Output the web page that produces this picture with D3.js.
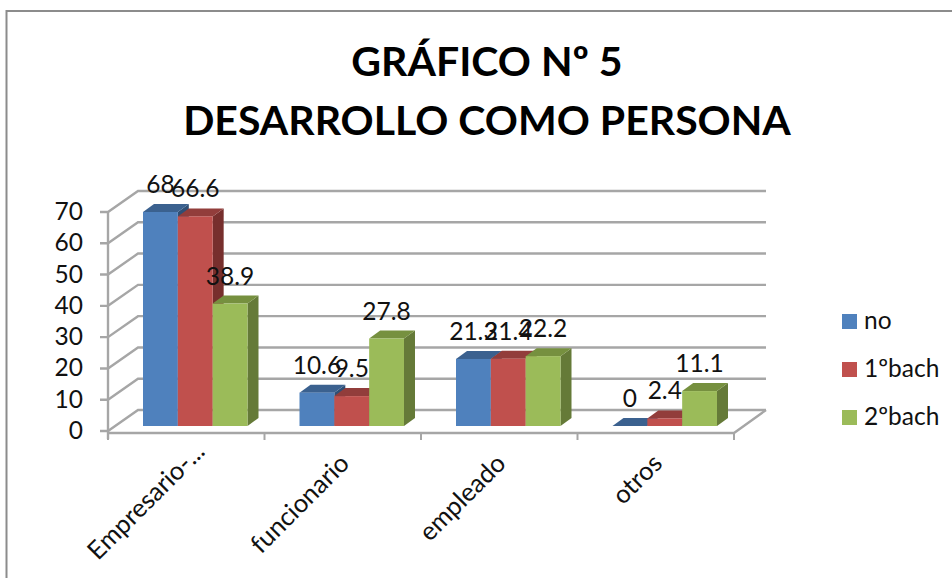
<!DOCTYPE html>
<html><head><meta charset="utf-8">
<script src="https://cdn.jsdelivr.net/npm/d3@7"></script>
<style>html,body{margin:0;background:#fff}svg{display:block}text{font-family:Lato,Carlito,sans-serif;fill:#111}</style>
</head><body><svg id="c" width="952" height="578"></svg>
<script>
const categories=["Empresario-...","funcionario","empleado","otros"];
const seriesNames=["no","1ºbach","2ºbach"];
const no=[68,10.6,21.3,0];
const bach1=[66.6,9.5,21.4,2.4];
const bach2=[38.9,27.8,22.2,11.1];
const yTicks=[0,10,20,30,40,50,60,70];
const titleLines=["GRÁFICO Nº 5","DESARROLLO COMO PERSONA"];
const seriesValues=[no,bach1,bach2];
const colors=[["#4f81bd","#3b618f","#2f4f75"],["#c0504d","#923d3b","#772f2d"],["#9bbb59","#76903f","#657a38"]];

const svg=d3.select("#c");
const frame="#8c8c8c",grid="#a6a6a6";
svg.append("path").attr("d","M6.5,578V11H952").attr("fill","none").attr("stroke",frame).attr("stroke-width",2);
svg.selectAll("text.t").data(titleLines).join("text").attr("class","t").attr("x",487).attr("y",(d,i)=>76+i*59)
 .attr("text-anchor","middle").attr("font-size",41).attr("font-weight",700).style("fill","#000").text(d=>d);

const depthY=21;
const x=d3.scaleBand().domain(categories).range([108,734]);
const yFront=d3.scaleLinear().domain([0,70]).range([431,212]);
const yBar=d3.scaleLinear().domain([0,70]).range([426,205.7]);
const inner=d3.scaleBand().domain(d3.range(3)).range([35,139.5]);
const dx=11,dy=8;
const g=svg.append("g");
yTicks.forEach(t=>{
  const y=yFront(t);
  g.append("path").attr("d",`M100,${y}H108L138,${y-depthY}H766`).attr("fill","none").attr("stroke",grid).attr("stroke-width",2.4);
});
g.append("path").attr("d",`M108,${yFront(70)}V439`).attr("stroke",grid).attr("stroke-width",2.4);
g.append("path").attr("d","M108,433H734L766,410").attr("fill","none").attr("stroke",grid).attr("stroke-width",2.4);
[...categories.map(c=>x(c)),x.range()[1]].forEach(v=>g.append("path").attr("d",`M${v},433V440`).attr("stroke",grid).attr("stroke-width",2));
categories.forEach((c,ci)=>{
  seriesValues.forEach((vals,si)=>{
    const v=vals[ci],x0=x(c)+inner(si),w=inner.bandwidth(),y0=yBar(v),yb=yBar(0),col=colors[si];
    const b=g.append("g");
    b.append("path").attr("d",`M${x0+w},${y0}l${dx},${-dy}V${yb-dy}l${-dx},${dy}Z`).attr("fill",col[2]);
    b.append("path").attr("d",`M${x0},${y0}l${dx},${-dy}h${w}l${-dx},${dy}Z`).attr("fill",col[1]);
    b.append("rect").attr("x",x0).attr("y",y0).attr("width",w).attr("height",yb-y0).attr("fill",col[0]);
  });
});
categories.forEach((c,ci)=>{
  seriesValues.forEach((vals,si)=>{
    g.append("text").attr("x",x(c)+inner(si)+inner.bandwidth()/2).attr("y",yBar(vals[ci])-19)
     .attr("text-anchor","middle").attr("font-size",24.5).text(vals[ci]);
  });
});
svg.selectAll("text.y").data(yTicks).join("text").attr("class","y").attr("x",83).attr("y",d=>yFront(d)+8)
 .attr("text-anchor","end").attr("font-size",24.5).text(d=>d);
svg.selectAll("text.x").data(categories).join("text").attr("class","x")
 .attr("transform",d=>`translate(${x(d)+x.bandwidth()/2+8},${465}) rotate(-45)`)
 .attr("dx",(d,i)=>i===0?17:0)
 .attr("text-anchor","end").attr("font-size",25.5).text(d=>d);
const leg=d3.scaleLinear().domain([0,1]).range([314,362]);
seriesNames.forEach((n,i)=>{
  svg.append("rect").attr("x",842).attr("y",leg(i)).attr("width",15).attr("height",15).attr("fill",colors[i][0]);
  svg.append("text").attr("x",864).attr("y",leg(i)+15).attr("font-size",24.5).text(n);
});
</script></body></html>
